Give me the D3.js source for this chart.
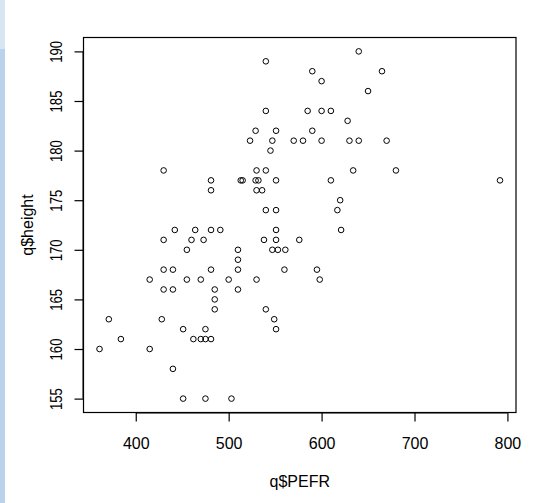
<!DOCTYPE html>
<meta charset="utf-8">
<script src="https://d3js.org/d3.v7.min.js"></script>
<style>
  body { margin: 0; background: #fff; }
  text { font-family: "Liberation Sans", Arial, sans-serif; fill: #000; }
</style>
<div id="my_dataviz"></div>
<script>
  // PEFR and height (same order in both arrays)
  var pefr = [540, 540, 585, 640, 590, 665, 600, 650, 600, 610, 628, 590, 580, 600, 630, 640, 670, 634, 680, 610, 792, 620, 617,
    529, 551, 523, 547, 570, 545, 430, 530, 540, 481, 513, 515, 529, 532, 551, 481, 530, 536, 540, 551,
    442, 464, 481, 491, 551, 430, 460, 473, 538, 551, 576, 455, 510, 547, 553, 561, 510, 430, 440, 481, 510, 560,
    415, 455, 470, 500, 530, 430, 440, 485, 510, 485, 485, 540, 371, 428, 549, 451, 475, 551,
    384, 462, 470, 475, 481, 361, 415, 440, 451, 475, 503, 621, 595, 598];
  var height = [189, 184, 184, 190, 188, 188, 187, 186, 184, 184, 183, 182, 181, 181, 181, 181, 181, 178, 178, 177, 177, 175, 174,
    182, 182, 181, 181, 181, 180, 178, 178, 178, 177, 177, 177, 177, 177, 177, 176, 176, 176, 174, 174,
    172, 172, 172, 172, 172, 171, 171, 171, 171, 171, 171, 170, 170, 170, 170, 170, 169, 168, 168, 168, 168, 168,
    167, 167, 167, 167, 167, 166, 166, 166, 166, 165, 164, 164, 163, 163, 163, 162, 162, 162,
    161, 161, 161, 161, 161, 160, 160, 158, 155, 155, 155, 172, 168, 167];
  var xTicks = [400, 500, 600, 700, 800];
  var yTicks = [155, 160, 165, 170, 175, 180, 185, 190];

  var W = 554, H = 503;
  var box = { left: 83.5, right: 516, top: 37.5, bottom: 412.5 };

  var svg = d3.select("#my_dataviz").append("svg").attr("width", W).attr("height", H);

  // window edge strip seen on the left of the screenshot
  svg.append("rect").attr("x", 0).attr("y", 0).attr("width", 5).attr("height", H).attr("fill", "#bad2eb");
  svg.append("rect").attr("x", 0).attr("y", 0).attr("width", 5).attr("height", 49).attr("fill", "#d8e5f3");

  // R style: data range padded by 4% on each side
  var xe = d3.extent(pefr), ye = d3.extent(height);
  var xp = (xe[1] - xe[0]) * 0.04, yp = (ye[1] - ye[0]) * 0.04;
  var x = d3.scaleLinear().domain([xe[0] - xp, xe[1] + xp]).range([box.left, box.right]);
  var y = d3.scaleLinear().domain([ye[0] - yp, ye[1] + yp]).range([box.bottom, box.top]);

  // frame
  svg.append("rect").attr("x", box.left).attr("y", box.top)
    .attr("width", box.right - box.left).attr("height", box.bottom - box.top)
    .attr("fill", "none").attr("stroke", "#000").attr("stroke-width", 1.2);

  // x axis
  var xAxis = svg.append("g").attr("transform", "translate(0," + box.bottom + ")")
    .call(d3.axisBottom(x).tickValues(xTicks).tickSize(9).tickPadding(0).tickFormat(d3.format("d")));
  xAxis.select(".domain").attr("d", "M" + x(400) + ",0.5H" + x(800));
  xAxis.selectAll(".tick line").attr("stroke-width", 1.2);
  xAxis.selectAll("text").remove();
  xAxis.selectAll(".tick").append("text")
    .attr("y", 36.5).attr("text-anchor", "middle").style("font-size", "16px").attr("fill", "#000")
    .text(function(d) { return d; });

  // y axis
  var yAxis = svg.append("g").attr("transform", "translate(" + box.left + ",0)")
    .call(d3.axisLeft(y).tickValues(yTicks).tickSize(9).tickPadding(0));
  yAxis.select(".domain").attr("d", "M-0.5," + y(155) + "V" + y(190));
  yAxis.selectAll(".tick line").attr("stroke-width", 1.2);
  yAxis.selectAll("text").remove();
  yAxis.selectAll(".tick").append("text")
    .attr("transform", "translate(-21.5,0) rotate(-90) scale(0.82,1)")
    .attr("text-anchor", "middle").style("font-size", "16px").attr("fill", "#000")
    .text(function(d) { return d; });

  // axis titles
  svg.append("text").attr("x", (box.left + box.right) / 2).attr("y", 487)
    .attr("text-anchor", "middle").style("font-size", "16px").text("q$PEFR");
  svg.append("text")
    .attr("transform", "translate(33," + (box.top + box.bottom) / 2 + ") rotate(-90)")
    .attr("text-anchor", "middle").style("font-size", "16px").text("q$height");

  // points
  svg.append("g").selectAll("circle").data(d3.range(pefr.length)).enter().append("circle")
    .attr("cx", function(i) { return x(pefr[i]); })
    .attr("cy", function(i) { return y(height[i]); })
    .attr("r", 2.8).attr("fill", "none").attr("stroke", "#000").attr("stroke-width", 1);
</script>
